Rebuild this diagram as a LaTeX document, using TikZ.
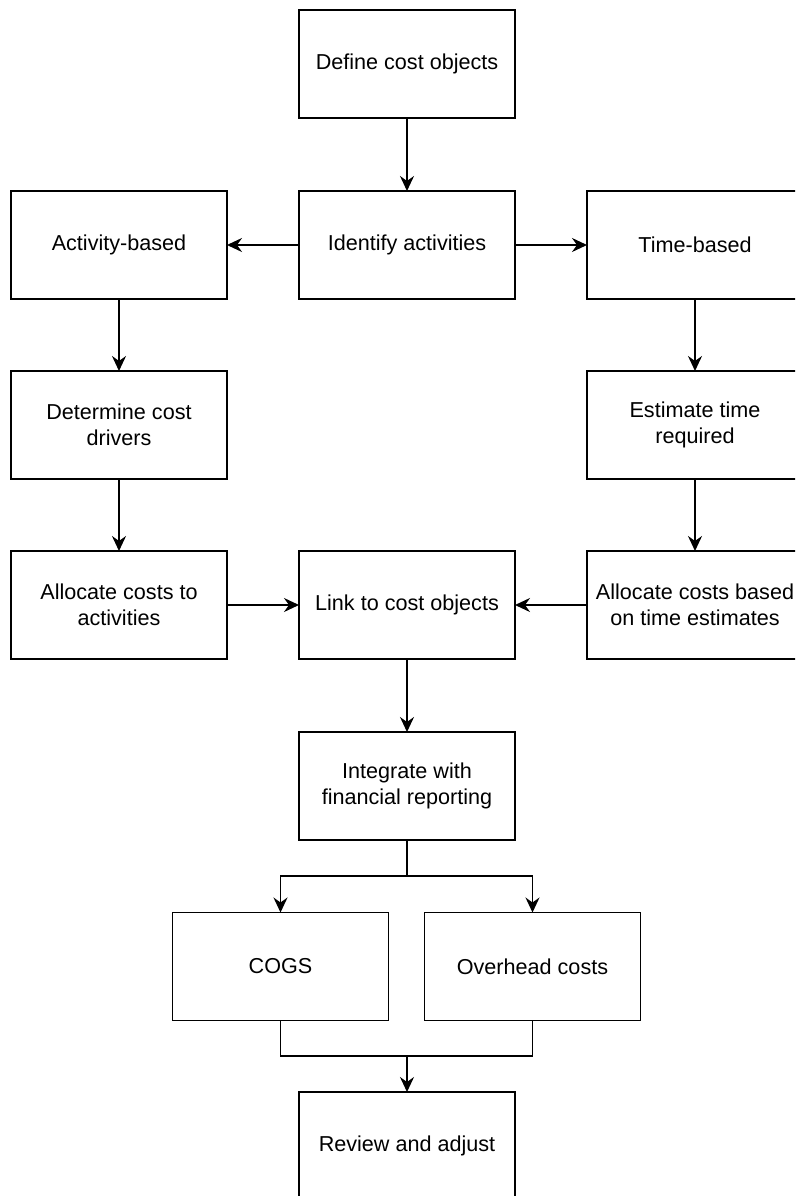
\documentclass[tikz,border=0pt]{standalone}
\usepackage{fontspec}
\setmainfont{Liberation Sans}
\usetikzlibrary{arrows.meta}
\begin{document}
\begin{tikzpicture}[x=1pt,y=-1pt,
  box/.style={draw=black, line width=1.8pt, fill=white, minimum width=216pt, minimum height=108pt,
    inner sep=0pt, outer sep=0pt, align=center, font=\fontsize{21.6}{26}\selectfont},
  conn/.style={draw=black, line width=1.8pt},
  arr/.style={conn, -{Stealth[length=15pt,width=14pt,inset=5pt]}}]
\useasboundingbox (0,0) rectangle (795,1196);
\clip (0,0) rectangle (795,1196);
\fill[white] (0,0) rectangle (795,1196);
\node[box] (define) at (407,64) {Define cost objects};
\node[box] (identify) at (407,245) {Identify activities};
\node[box] (activity) at (119,245) {Activity-based};
\node[box] (time) at (695,245) {Time-based};
\node[box] (determine) at (119,425) {Determine cost\\drivers};
\node[box] (estimate) at (695,425) {Estimate time\\required};
\node[box] (alloca) at (119,605) {Allocate costs to\\activities};
\node[box] (link) at (407,605) {Link to cost objects};
\node[box] (alloct) at (695,605) {Allocate costs based\\on time estimates};
\node[box] (integrate) at (407,786) {Integrate with\\financial reporting};
\node[box] (cogs) at (280.5,966.5) {COGS};
\node[box] (overhead) at (532.5,966.5) {Overhead costs};
\node[box] (review) at (407,1146) {Review and adjust};
\coordinate (split) at (407,876);
\coordinate (merge) at (407,1056);
\draw[arr] (define) -- (identify);
\draw[arr] (identify) -- (activity);
\draw[arr] (identify) -- (time);
\draw[arr] (activity) -- (determine);
\draw[arr] (time) -- (estimate);
\draw[arr] (determine) -- (alloca);
\draw[arr] (estimate) -- (alloct);
\draw[arr] (alloca) -- (link);
\draw[arr] (alloct) -- (link);
\draw[arr] (link) -- (integrate);
\draw[conn] (integrate.south) -- (split);
\draw[arr] (split) -| (cogs.north);
\draw[arr] (split) -| (overhead.north);
\draw[conn] (cogs.south) |- (merge) -| (overhead.south);
\draw[arr] (merge) -- (review.north);
\end{tikzpicture}
\end{document}
